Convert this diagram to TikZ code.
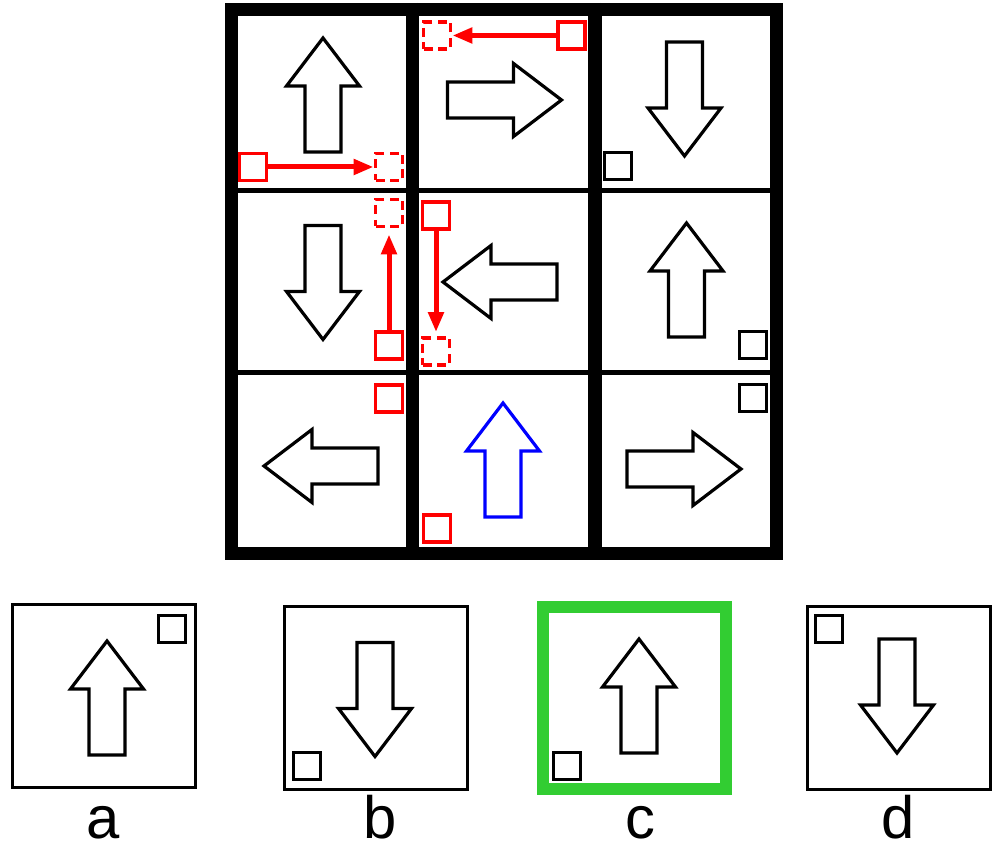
\documentclass[tikz,border=0pt]{standalone}
\usepackage{fontspec}
\setmainfont{Liberation Sans}
\usetikzlibrary{arrows.meta}
\definecolor{rojo}{HTML}{FF0000}
\definecolor{azul}{HTML}{0000FF}
\definecolor{verde}{HTML}{32CD32}

\tikzset{
  flecha/.pic={\draw[line width=0.32mm,line join=miter]
    (0,-57) -- (36.5,-9) -- (18,-9) -- (18,57) -- (-18,57) -- (-18,-9) -- (-36.5,-9) -- cycle;},
  marca/.style={draw,line width=0.3mm,minimum size=2.7mm,inner sep=0pt},
  marcaR/.style={marca,draw=rojo,line width=0.38mm},
  fantasma/.style={marcaR,dash pattern=on 0.9mm off 0.55mm},
  mover/.style={draw=rojo,line width=0.5mm,-{Triangle[length=2mm,width=1.5mm]}},
  opcion/.style={draw,line width=0.35mm,minimum size=18.3mm,inner sep=0pt},
  letra/.style={font=\fontsize{17}{20}\selectfont,anchor=base}
}

\begin{document}
\begin{tikzpicture}[x=0.1mm,y=-0.1mm]
  \useasboundingbox (0,0) rectangle (1004,849);
  % celdas
  \draw[line width=0.25mm] (237,15) rectangle (407,189.5) (237,191.5) rectangle (407,371.5) (237,373.5) rectangle (407,548);
  \draw[line width=0.25mm] (418,15) rectangle (589,189.5) (418,191.5) rectangle (589,371.5) (418,373.5) rectangle (589,548);
  \draw[line width=0.25mm] (601,15) rectangle (771,189.5) (601,191.5) rectangle (771,371.5) (601,373.5) rectangle (771,548);
  % marco
  \draw[line width=1.2mm] (231,9) rectangle (777,554);
  \draw[line width=1.15mm] (412.5,3) -- (412.5,560);
  \draw[line width=1.2mm] (595,3) -- (595,560);

  % fila 1
  \pic at (323,95) {flecha};
  \node[marcaR] (p11) at (253,167) {};
  \node[fantasma] (q11) at (389,167) {};
  \draw[mover] (p11) -- (q11);
  \pic[rotate=-90] at (504.5,100) {flecha};
  \node[marcaR] (p12) at (571.5,35.5) {};
  \node[fantasma] (q12) at (437,35.5) {};
  \draw[mover] (p12) -- (q12);
  \pic[rotate=180] at (684.5,99) {flecha};
  \node[marca] (m13) at (617.5,166) {};

  % fila 2
  \pic[rotate=180] at (323,282.5) {flecha};
  \node[marcaR] (p21) at (389,345.5) {};
  \node[fantasma] (q21) at (389,213) {};
  \draw[mover,shorten >=0.6mm] (p21) -- (q21);
  \pic[rotate=90] at (500,282) {flecha};
  \node[marcaR] (p22) at (436,215.5) {};
  \node[fantasma] (q22) at (436,351.5) {};
  \draw[mover,shorten >=0.4mm] (p22) -- (q22);
  \pic at (686.5,280) {flecha};
  \node[marca] (m23) at (752.5,345.5) {};

  % fila 3
  \pic[rotate=90] at (321,466) {flecha};
  \node[marcaR] (m31) at (389,398.5) {};
  \pic[azul] at (503,460) {flecha};
  \node[marcaR] (m32) at (437,528.5) {};
  \pic[rotate=-90] at (684,469) {flecha};
  \node[marca] (m33) at (752.5,398.5) {};

  % opciones
  \node[opcion] (oa) at (104,696) {};
  \pic at (107,698) {flecha};
  \node[marca] (ma) at (172,629.5) {};
  \node[letra] (la) at (103,838) {a};

  \node[opcion] (ob) at (376,698) {};
  \pic[rotate=180] at (375,699.5) {flecha};
  \node[marca] (mb) at (307,766.5) {};
  \node[letra] (lb) at (380,838) {b};

  \node[opcion,draw=verde,line width=1.2mm,minimum height=18.2mm] (oc) at (634.5,698) {};
  \pic at (639,696) {flecha};
  \node[marca] (mc) at (567,766.5) {};
  \node[letra] (lc) at (640,838) {c};

  \node[opcion] (od) at (899,698) {};
  \pic[rotate=180] at (897,696) {flecha};
  \node[marca] (md) at (829,629.5) {};
  \node[letra] (ld) at (898,838) {d};
\end{tikzpicture}
\end{document}
